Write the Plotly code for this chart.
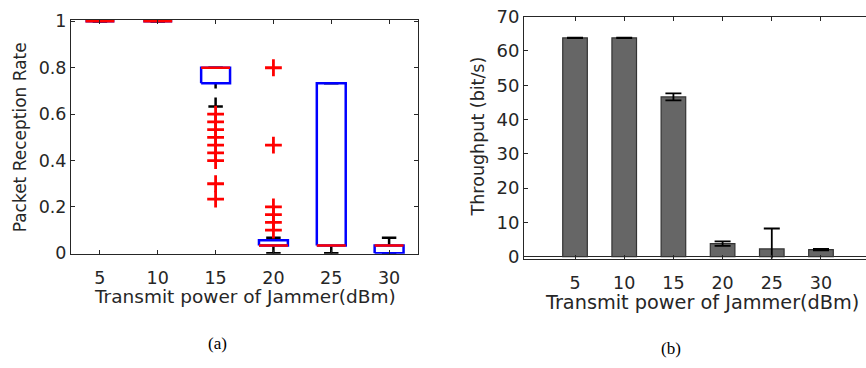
import plotly.graph_objects as go

# ---------------- data ----------------
power_labels = ["5", "10", "15", "20", "25", "30"]

# (a) packet reception rate: box statistics per jammer power
prr_q1 = [1.0, 1.0, 0.7333, 0.0333, 0.0333, 0.0]
prr_median = [1.0, 1.0, 0.8, 0.0333, 0.0333, 0.0333]
prr_q3 = [1.0, 1.0, 0.8, 0.0567, 0.7333, 0.0333]
prr_lower = [1.0, 1.0, 0.6333, 0.0, 0.0, 0.0]
prr_upper = [1.0, 1.0, 0.8, 0.0667, 0.7333, 0.0667]
prr_outliers = [
    [],
    [],
    [0.6, 0.5667, 0.5333, 0.5, 0.4667, 0.4333, 0.4, 0.3, 0.2333],
    [0.8, 0.4667, 0.2, 0.1667, 0.1333, 0.1],
    [],
    [],
]

# (b) throughput (bit/s) with error
throughput = [63.8, 63.8, 46.6, 3.8, 2.25, 2.05]
throughput_err = [0.08, 0.08, 1.0, 0.65, 5.95, 0.2]

# ---------------- style ----------------
FONT = "DejaVu Sans"
AX = "#262626"
BOX_W = 0.5
CAP_W = 0.25
LW = 2.5

pos = list(range(1, len(power_labels) + 1))

fig = go.Figure()

# whiskers (dashed, black), drawn from the cap toward the box
wx, wy = [], []
for p, lo, q1, q3, hi in zip(pos, prr_lower, prr_q1, prr_q3, prr_upper):
    if q1 > lo:
        wx += [p, p, None]
        wy += [lo, q1, None]
    if hi > q3:
        wx += [p, p, None]
        wy += [hi, q3, None]
fig.add_trace(go.Scatter(x=wx, y=wy, mode="lines", xaxis="x", yaxis="y",
                         line=dict(color="black", width=LW, dash="dash"),
                         hoverinfo="skip", showlegend=False))

# caps (solid black)
cx, cy = [], []
for p, lo, hi in zip(pos, prr_lower, prr_upper):
    for v in (lo, hi):
        cx += [p - CAP_W / 2, p + CAP_W / 2, None]
        cy += [v, v, None]
fig.add_trace(go.Scatter(x=cx, y=cy, mode="lines", xaxis="x", yaxis="y",
                         line=dict(color="black", width=LW),
                         hoverinfo="skip", showlegend=False))

# boxes (blue)
bx, by = [], []
for p, q1, q3 in zip(pos, prr_q1, prr_q3):
    l, r = p - BOX_W / 2, p + BOX_W / 2
    bx += [l, r, r, l, l, None]
    by += [q1, q1, q3, q3, q1, None]
fig.add_trace(go.Scatter(x=bx, y=by, mode="lines", xaxis="x", yaxis="y",
                         line=dict(color="#0000ff", width=LW),
                         hoverinfo="skip", showlegend=False))

# medians (red)
mx, my = [], []
for p, m in zip(pos, prr_median):
    mx += [p - BOX_W / 2, p + BOX_W / 2, None]
    my += [m, m, None]
fig.add_trace(go.Scatter(x=mx, y=my, mode="lines", xaxis="x", yaxis="y",
                         line=dict(color="#ff0000", width=LW),
                         hoverinfo="skip", showlegend=False))

# outliers (red +)
ox, oy = [], []
for p, outs in zip(pos, prr_outliers):
    for v in outs:
        ox.append(p)
        oy.append(v)
fig.add_trace(go.Scatter(x=ox, y=oy, mode="markers", xaxis="x", yaxis="y",
                         marker=dict(symbol="cross-thin", size=12,
                                     line=dict(color="#ff0000", width=2.8)),
                         hoverinfo="skip", showlegend=False))

# (b) bars
fig.add_trace(go.Bar(x=pos, y=throughput, width=0.5, xaxis="x2", yaxis="y2",
                     marker=dict(color="#666666", line=dict(color="#333333", width=1.2)),
                     error_y=dict(type="data", array=throughput_err, visible=True,
                                  color="black", thickness=1.8, width=8),
                     hoverinfo="skip", showlegend=False))


def axis_common(size, standoff=None):
    d = dict(showline=True, linecolor=AX, linewidth=1, ticks="inside", ticklen=4,
             tickcolor=AX, showgrid=False,
             tickfont=dict(family=FONT, size=size, color=AX))
    if standoff is not None:
        d["ticklabelstandoff"] = standoff
    return d


fig.update_layout(
    width=866, height=368,
    margin=dict(l=0, r=0, t=0, b=0),
    paper_bgcolor="white", plot_bgcolor="white",
    xaxis=dict(domain=[0.0820, 0.4827], range=[0.5, 6.5], anchor="y",
               tickvals=pos, ticktext=power_labels, mirror="ticks", zeroline=False,
               **axis_common(17.5, 8)),
    yaxis=dict(domain=[0.3003, 0.9742], range=[-0.002, 1.006], anchor="x",
               tickvals=[0, 0.2, 0.4, 0.6, 0.8, 1.0],
               ticktext=["0", "0.2", "0.4", "0.6", "0.8", "1"], mirror="ticks",
               zeroline=False, **axis_common(17.5)),
    xaxis2=dict(domain=[0.6051, 1.0], range=[-0.037, 6.915], anchor="y2",
                tickvals=pos, ticktext=power_labels, mirror="ticks", zeroline=False,
                **axis_common(17.5, 8)),
    yaxis2=dict(domain=[0.2867, 0.9837], range=[-0.55, 70], anchor="x2",
                tickvals=[0, 10, 20, 30, 40, 50, 60, 70], mirror=False,
                zeroline=True, zerolinecolor=AX, zerolinewidth=1,
                **axis_common(18)),
)

ann = [
    dict(text="Transmit power of Jammer(dBm)", x=245 / 866, y=1 - 303 / 368,
         font=dict(family=FONT, size=18.5, color=AX)),
    dict(text="Transmit power of Jammer(dBm)", x=702 / 866, y=1 - 309 / 368,
         font=dict(family=FONT, size=19.3, color=AX)),
    dict(text="Packet Reception Rate", x=20 / 866, y=1 - 134 / 368, textangle=-90,
         font=dict(family=FONT, size=17, color=AX)),
    dict(text="Throughput (bit/s)", x=478 / 866, y=1 - 133 / 368, textangle=-90,
         font=dict(family=FONT, size=17.5, color=AX)),
    dict(text="(a)", x=217 / 866, y=1 - 353 / 368,
         font=dict(family="Liberation Serif", size=17, color="black")),
    dict(text="(b)", x=671 / 866, y=1 - 358 / 368,
         font=dict(family="Liberation Serif", size=17, color="black")),
]
for a in ann:
    a.update(xref="paper", yref="paper", showarrow=False, xanchor="center", yanchor="middle")
fig.update_layout(annotations=ann)

fig.write_html("out.html")
